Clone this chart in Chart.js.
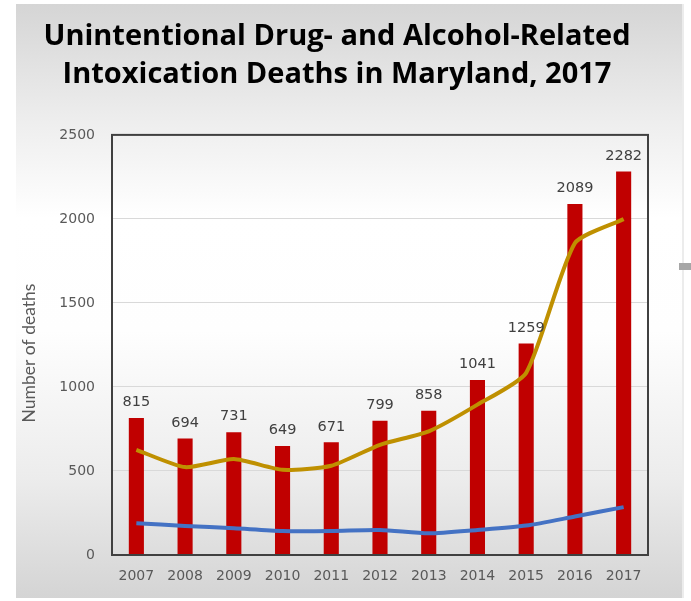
<!DOCTYPE html>
<html>
<head>
<meta charset="utf-8">
<script src="https://cdn.jsdelivr.net/npm/chart.js@4/dist/chart.umd.min.js"></script>
<style>
  html, body { margin: 0; padding: 0; background: #fff; }
  body { width: 691px; height: 601px; position: relative; overflow: hidden; }
  .panel {
    position: absolute; left: 16px; top: 4px; width: 666px; height: 594px;
    background: linear-gradient(to bottom, #d5d5d5 0%, #eeeeee 20%, #ffffff 36%, #fefefe 55%, #ececec 80%, #d4d4d4 100%);
  }
  .edge { position: absolute; left: 682px; top: 4px; width: 2px; height: 594px; background: #ececec; }
  .handle { position: absolute; left: 679px; top: 263px; width: 12px; height: 7px; background: #a6a6a6; }
  canvas { position: absolute; left: 0; top: 0; }
</style>
</head>
<body>
<div class="panel"></div>
<div class="edge"></div>
<div class="handle"></div>
<canvas id="chart" width="691" height="601"></canvas>
<script>
const titleLines = ["Unintentional Drug- and Alcohol-Related", "Intoxication Deaths in Maryland, 2017"];
const years = ["2007", "2008", "2009", "2010", "2011", "2012", "2013", "2014", "2015", "2016", "2017"];
const totalDeaths = [815, 694, 731, 649, 671, 799, 858, 1041, 1259, 2089, 2282];
const goldSeries = [626, 523, 571, 507, 531, 656, 736, 895, 1084, 1856, 1999];
const blueSeries = [189, 173, 159, 143, 143, 149, 129, 149, 175, 229, 285];
const yTicks = [0, 500, 1000, 1500, 2000, 2500];
const yAxisTitle = "Number of deaths";

const tickFont = { family: "'DejaVu Sans', Verdana, sans-serif", size: 14 };

const barLabels = {
  id: "barLabels",
  afterDatasetsDraw(chart) {
    const { ctx } = chart;
    const meta = chart.getDatasetMeta(2);
    ctx.save();
    ctx.font = "14.5px 'DejaVu Sans', Verdana, sans-serif";
    ctx.fillStyle = "#404040";
    ctx.textAlign = "center";
    ctx.textBaseline = "middle";
    meta.data.forEach((bar, i) => {
      ctx.fillText(String(totalDeaths[i]), bar.x, bar.y - 15.5);
    });
    ctx.restore();
  },
};

const frame = {
  id: "frame",
  afterDraw(chart) {
    const { ctx, chartArea: a } = chart;
    ctx.save();
    ctx.strokeStyle = "#404040";
    ctx.lineWidth = 2;
    ctx.strokeRect(a.left, a.top, a.right - a.left, a.bottom - a.top);
    ctx.font = "17.5px Lato, 'Open Sans', sans-serif";
    ctx.fillStyle = "#595959";
    ctx.textAlign = "center";
    ctx.textBaseline = "middle";
    ctx.translate(29, 353);
    ctx.rotate(-Math.PI / 2);
    ctx.fillText(yAxisTitle, 0, 0);
    ctx.restore();
  },
};

new Chart(document.getElementById("chart"), {
  data: {
    labels: years,
    datasets: [
      {
        type: "line",
        data: blueSeries,
        borderColor: "#4472c4",
        borderWidth: 4,
        pointRadius: 0,
        tension: 0.25,
        order: 0,
      },
      {
        type: "line",
        data: goldSeries,
        borderColor: "#bf9000",
        borderWidth: 4,
        pointRadius: 0,
        tension: 0.2,
        order: 1,
      },
      {
        type: "bar",
        data: totalDeaths,
        backgroundColor: "#c00000",
        barPercentage: 0.31,
        categoryPercentage: 1,
        order: 2,
      },
    ],
  },
  options: {
    responsive: false,
    animation: false,
    layout: { padding: { top: 0, left: 26, right: 43, bottom: 10 } },
    plugins: {
      legend: { display: false },
      tooltip: { enabled: false },
      title: {
        display: true,
        text: titleLines,
        color: "#000000",
        font: { family: "'Open Sans', Lato, sans-serif", size: 29, weight: "bold", lineHeight: 1.3 },
        padding: { top: 18, bottom: 41.5 },
      },
    },
    scales: {
      x: {
        offset: true,
        grid: { display: false, drawTicks: false },
        border: { display: false },
        ticks: { color: "#595959", font: tickFont, padding: 13 },
        afterFit: (scale) => { scale.height = 36; },
      },
      y: {
        min: 0,
        max: 2500,
        afterBuildTicks: (scale) => { scale.ticks = yTicks.map((v) => ({ value: v })); },
        grid: { color: "#d9d9d9", lineWidth: 1, drawTicks: false },
        border: { display: false },
        ticks: { color: "#595959", font: tickFont, padding: 17, callback: (value) => String(value) },
        afterFit: (scale) => { scale.width = 86; },
      },
    },
  },
  plugins: [barLabels, frame],
});
</script>
</body>
</html>
